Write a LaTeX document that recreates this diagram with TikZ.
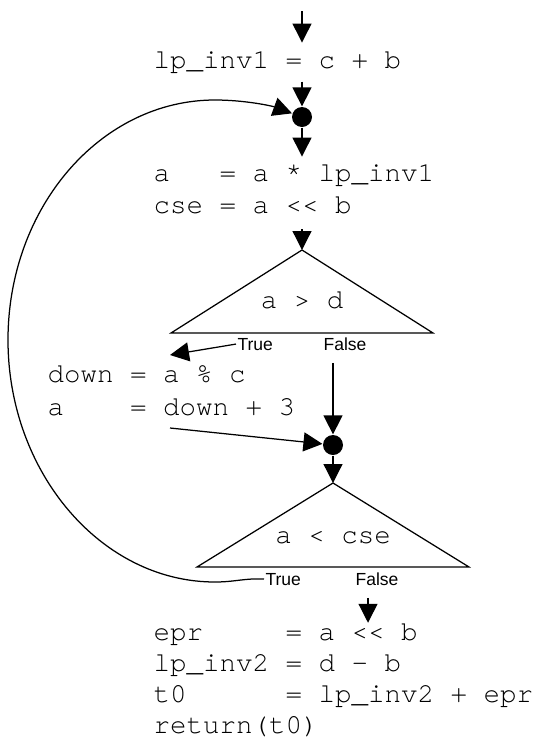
\documentclass[tikz,border=0pt]{standalone}
\usepackage{fontspec}
\setmonofont{TeX Gyre Cursor}
\newfontfamily\labelfont{Liberation Sans}
\usetikzlibrary{arrows.meta,calc}

\begin{document}
\begin{tikzpicture}[x=1pt,y=-1pt,
  line width=1.25pt,
  arr/.style={-{Triangle[length=19pt,width=19pt]}},
  code/.style={font=\ttfamily\fontsize{27.5}{32}\selectfont, inner sep=0pt,
    anchor=base west, align=left},
  cond/.style={font=\ttfamily\fontsize{27.5}{32}\selectfont, inner sep=0pt,
    anchor=base},
  branch/.style={font=\labelfont\fontsize{17.5}{20}\selectfont, inner xsep=1pt,
    inner ysep=0pt, anchor=base west},
  junction/.style={circle, fill, inner sep=0pt, minimum size=20pt},
  decision/.style={line join=miter}
]
\useasboundingbox (0,0) rectangle (543,756);

% ---- code blocks (anchored at the baseline of their last line) ----
\coordinate (entry) at (302,11);
\node[code] (lp1)  at (153,68)  {lp\_inv1 = c + b};
\node[code] (body) at (153,213) {a~~~= a * lp\_inv1\\cse = a << b};
\node[code, font=\ttfamily\fontsize{27.5}{33}\selectfont]
  (side) at (47,415) {down = a \% c\\a~~~~= down + 3};
\node[code, font=\ttfamily\fontsize{27.5}{31}\selectfont]
  (tail) at (153,733) {epr~~~~~= a << b\\lp\_inv2 = d - b\\t0~~~~~~= lp\_inv2 + epr\\return(t0)};

% ---- junction points ----
\node[junction] (j1) at (302,117) {};
\node[junction] (j2) at (333,445) {};

% ---- first test ----
\coordinate (t1a) at (302,250);
\coordinate (t1l) at (171,333);
\coordinate (t1r) at (433,333);
\draw[decision] (t1a) -- (t1l) -- (t1r) -- cycle;
\node[cond] (c1) at (302,308) {a > d};
\node[branch] (t1true)  at (236,350) {True};
\node[branch] (t1false) at (322,350) {False};

% ---- second test ----
\coordinate (t2a) at (333,483);
\coordinate (t2l) at (197,567);
\coordinate (t2r) at (469,567);
\draw[decision] (t2a) -- (t2l) -- (t2r) -- cycle;
\node[cond] (c2) at (333,543) {a < cse};
\node[branch] (t2true)  at (264,585) {True};
\node[branch] (t2false) at (354,585) {False};

% ---- flow ----
\coordinate (sidein)  at (170,355);
\coordinate (sideout) at (170,428);
\coordinate (exitpt) at ($(t2false.south)+(-9,12)$);

\draw[arr] (entry) -- ($(entry |- lp1.north)+(0,-8)$);
\draw[arr] ($(lp1.south -| j1)+(0,8)$) -- (j1);
\draw[arr] (j1) -- ($(j1 |- body.north)+(0,-7)$);
\draw[arr] ($(body.south -| t1a)+(0,15)$) -- (t1a);
\draw[arr] (t1true.west) -- (sidein);
\draw[arr] ($(t1false.south -| j2)+(0,12)$) -- (j2);
\draw[arr] (sideout) -- (j2);
\draw[arr] (j2) -- (t2a);
\draw[arr] (exitpt) -- (exitpt |- tail.north);

% loop back from the True branch of the second test
\draw[arr] (t2true.west) .. controls (245,578) and (235,582) .. (215,582)
  .. controls (101,582) and (8,472) .. (8,340)
  .. controls (8,207) and (101,100) .. (215,100)
  .. controls (245,100) and (272,106) .. (j1);
\end{tikzpicture}
\end{document}
